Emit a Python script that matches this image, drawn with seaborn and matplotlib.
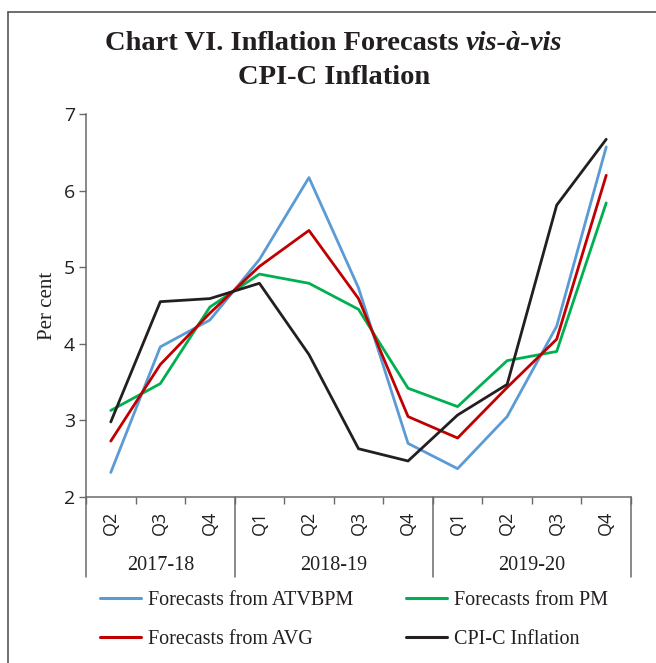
import numpy as np
import pandas as pd
import matplotlib
matplotlib.use("Agg")
import matplotlib.pyplot as plt
from matplotlib.lines import Line2D
from matplotlib.transforms import blended_transform_factory
import seaborn as sns

# data
quarters = ["Q2", "Q3", "Q4", "Q1", "Q2", "Q3", "Q4", "Q1", "Q2", "Q3", "Q4"]
years = ["2017-18", "2018-19", "2019-20"]
year_sizes = [3, 4, 4]

atvbpm = [2.32, 3.96, 4.31, 5.10, 6.17, 4.73, 2.70, 2.37, 3.05, 4.23, 6.57]
pm = [3.13, 3.48, 4.48, 4.91, 4.79, 4.45, 3.42, 3.18, 3.78, 3.90, 5.84]
avg = [2.73, 3.73, 4.40, 5.01, 5.48, 4.59, 3.05, 2.77, 3.43, 4.06, 6.20]
cpi = [2.98, 4.55, 4.59, 4.79, 3.86, 2.63, 2.47, 3.07, 3.47, 5.81, 6.67]

series_names = ["Forecasts from ATVBPM", "Forecasts from PM",
                "Forecasts from AVG", "CPI-C Inflation"]
colors = ["#5b9bd5", "#00b050", "#c00000", "#231f20"]

SERIF = "Liberation Serif"
SANS = "Open Sans"
TXT = "#231f20"
GREY = "#6a6a6a"

rows = []
for name, vals in zip(series_names, [atvbpm, pm, avg, cpi]):
    for i, v in enumerate(vals):
        rows.append({"pos": i, "value": v, "series": name})
df = pd.DataFrame(rows)

sns.set_style("white")
plt.rcParams["font.family"] = [SANS, "DejaVu Sans"]

fig = plt.figure(figsize=(6.56, 6.63), dpi=100)
ax = fig.add_axes([86 / 656, 1 - 497 / 663, (631 - 86) / 656, (497 - 114) / 663])

sns.lineplot(data=df, x="pos", y="value", hue="series", hue_order=series_names,
             palette=dict(zip(series_names, colors)), linewidth=2.0, ax=ax,
             legend=False)

ax.set_xlim(-0.5, len(quarters) - 0.5)
ax.set_ylim(2, 7)
ax.set_yticks(range(2, 8))
ax.tick_params(axis="y", direction="out", length=5, width=1, color=GREY,
               labelsize=14, labelcolor=TXT, pad=3, left=True)

# boundaries as major ticks, quarter labels as minor ticks
ax.set_xticks(np.arange(-0.5, len(quarters), 1.0))
ax.set_xticklabels([])
ax.set_xticks(np.arange(len(quarters)), minor=True)
ax.set_xticklabels(quarters, minor=True, rotation=90, fontsize=13, color=TXT)
ax.tick_params(axis="x", which="major", direction="out", length=5, width=1,
               color=GREY, bottom=True)
ax.tick_params(axis="x", which="minor", length=0, pad=10, bottom=True)
ax.set_xlabel("")

ax.set_ylabel("Per cent", fontfamily=SERIF, fontsize=15, color=TXT, labelpad=5)

for side in ["top", "right"]:
    ax.spines[side].set_visible(False)
for side in ["left", "bottom"]:
    ax.spines[side].set_color(GREY)
    ax.spines[side].set_linewidth(1.1)

# year group separators and labels
trans = blended_transform_factory(ax.transData, ax.transAxes)
sep_bottom = -(577 - 497) / 383
edges = np.concatenate([[0], np.cumsum(year_sizes)]) - 0.5
for e in edges:
    ax.plot([e, e], [0, sep_bottom], color=GREY, lw=1.1, transform=trans,
            clip_on=False)
for yr, a, b in zip(years, edges[:-1], edges[1:]):
    ax.text((a + b) / 2, -(565 - 497) / 383, yr, transform=trans, ha="center",
            va="center", fontfamily=SERIF, fontsize=14.5, color=TXT)

# legend, filled column by column: ATVBPM / AVG, then PM / CPI
leg_order = [0, 2, 1, 3]
handles = [Line2D([], [], color=colors[i], lw=2.2) for i in leg_order]
labels = [series_names[i] for i in leg_order]
fig.legend(handles, labels, ncol=2, loc="center",
           bbox_to_anchor=(354 / 656, 1 - 620 / 663), frameon=False,
           prop={"family": SERIF, "size": 14.5}, handlelength=2.0,
           handletextpad=0.35, columnspacing=2.65, labelspacing=0.95,
           labelcolor=TXT)

# title: bold with italic tail
fig.canvas.draw()
renderer = fig.canvas.get_renderer()
TSIZE = 20.5
t1 = fig.text(0, 0, "Chart VI. Inflation Forecasts ", fontfamily=SERIF,
              fontweight="bold", fontsize=TSIZE, color=TXT, va="center")
t2 = fig.text(0, 0, "vis-à-vis", fontfamily=SERIF, fontweight="bold",
              fontstyle="italic", fontsize=TSIZE, color=TXT, va="center")
w1 = t1.get_window_extent(renderer).width
w2 = t2.get_window_extent(renderer).width
x0 = (334 - (w1 + w2) / 2) / 656
y1 = 1 - 44 / 663
t1.set_position((x0, y1))
t2.set_position((x0 + w1 / 656, y1))
fig.text(334 / 656, 1 - 77 / 663, "CPI-C Inflation", fontfamily=SERIF,
         fontweight="bold", fontsize=TSIZE, color=TXT, ha="center", va="center")

# outer frame (top and left edges)
fig.add_artist(Line2D([7.5 / 656, 1], [1 - 12 / 663, 1 - 12 / 663],
                      color="#555555", lw=1.2, transform=fig.transFigure))
fig.add_artist(Line2D([7.5 / 656, 7.5 / 656], [0, 1 - 12 / 663],
                      color="#555555", lw=1.2, transform=fig.transFigure))

fig.savefig("out.png", dpi=100, facecolor="white")
